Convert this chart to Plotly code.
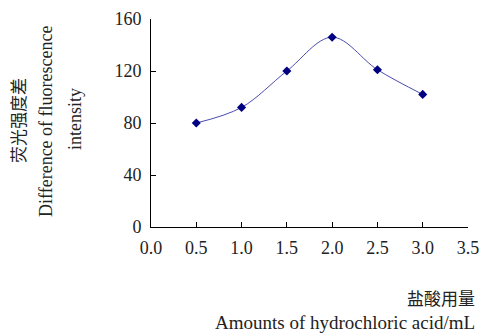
import plotly.graph_objects as go

x_vals = [0.5, 1.0, 1.5, 2.0, 2.5, 3.0]
y_vals = [80, 92, 120, 146, 121, 102]
x_ticks = [0.0, 0.5, 1.0, 1.5, 2.0, 2.5, 3.0, 3.5]
x_tick_text = ["0.0", "0.5", "1.0", "1.5", "2.0", "2.5", "3.0", "3.5"]
y_ticks = [0, 40, 80, 120, 160]

FONT = "Liberation Serif, Noto Sans CJK SC, serif"
L, R, T, B = 151, 12, 19, 107
W, H = 480, 334
pw, ph = W - L - R, H - T - B

def px(x):
    return (x - L) / pw

def py(y):
    return (H - B - y) / ph

fig = go.Figure()
fig.add_trace(go.Scatter(
    x=x_vals, y=y_vals, mode="lines+markers",
    line=dict(color="#4a4ab0", width=1, shape="spline", smoothing=1),
    marker=dict(symbol="diamond", size=7, color="#000080"),
    showlegend=False,
))

axis_common = dict(
    showline=True, linecolor="black", linewidth=1, mirror=False,
    ticks="inside", ticklen=5, tickcolor="black", tickwidth=1,
    showgrid=False, zeroline=False, automargin=False,
    tickfont=dict(family=FONT, size=18, color="#222"),
)
fig.update_xaxes(range=[0, 3.5], tickvals=x_ticks, ticktext=x_tick_text,
                 ticklabelstandoff=4, **axis_common)
fig.update_yaxes(range=[0, 160], tickvals=y_ticks, ticklabelstandoff=5, **axis_common)

anns = [
    dict(text="荧光强度差", x=px(19), y=py(121), size=17),
    dict(text="Difference of fluorescence", x=px(46), y=py(121), size=18),
    dict(text="intensity", x=px(75), y=py(119), size=18),
]
for a in anns:
    fig.add_annotation(text=a["text"], x=a["x"], y=a["y"], xref="paper", yref="paper",
                       textangle=-90, showarrow=False, xanchor="center", yanchor="middle",
                       font=dict(family=FONT, size=a["size"], color="#222"))

fig.add_annotation(text="盐酸用量", x=px(477), y=py(299), xref="paper", yref="paper",
                   showarrow=False, xanchor="right", yanchor="middle",
                   font=dict(family=FONT, size=17, color="#222"))
fig.add_annotation(text="Amounts of hydrochloric acid/mL", x=px(477), y=py(322), xref="paper", yref="paper",
                   showarrow=False, xanchor="right", yanchor="middle",
                   font=dict(family=FONT, size=19, color="#222"))

fig.update_layout(
    width=W, height=H,
    margin=dict(l=L, r=R, t=T, b=B),
    paper_bgcolor="white", plot_bgcolor="white",
)
fig.write_html("out.html", config={"displayModeBar": False},
               post_script="document.body.style.margin='0';document.body.style.overflow='hidden';")
